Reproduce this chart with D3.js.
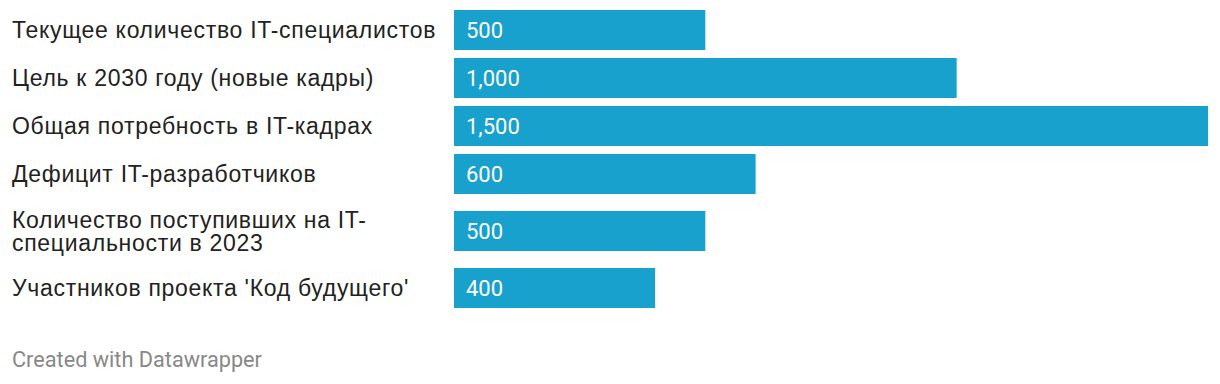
<!DOCTYPE html>
<meta charset="utf-8">
<style>
  body { margin: 0; background: #fff; }
  .label text { font-family: "Liberation Sans", Arial, sans-serif; font-size: 23px; letter-spacing: 0.7px; fill: #222; }
  .value { font-family: Roboto, sans-serif; font-size: 22px; fill: #fff; }
  .credit { font-family: Roboto, sans-serif; font-size: 21.7px; fill: #888; }
</style>
<svg width="1220" height="384"></svg>
<script src="https://d3js.org/d3.v7.min.js"></script>
<script>
var categories = [
    "Текущее количество IT-специалистов",
    "Цель к 2030 году (новые кадры)",
    "Общая потребность в IT-кадрах",
    "Дефицит IT-разработчиков",
    "Количество поступивших на IT-специальности в 2023",
    "Участников проекта 'Код будущего'"
];
var values = [500, 1000, 1500, 600, 500, 400];

var svg = d3.select("svg");

var labelX = 12, labelMax = 434, barX = 454, barW = 754, barH = 40, lineH = 23;

var x = d3.scaleLinear().domain([0, d3.max(values)]).range([barX, barX + barW]);

// wrap labels on spaces and after hyphens
var probe = svg.append("g").attr("class", "label").append("text");
function wrap(str) {
    var tokens = str.match(/[^\s-]+-?|\s+/g), lines = [], cur = "";
    tokens.forEach(function(t) {
        var test = cur + t;
        probe.text(test.trim());
        if (cur.trim() && probe.node().getComputedTextLength() > labelMax) {
            lines.push(cur.trim());
            cur = t.trim() ? t : "";
        } else cur = test;
    });
    if (cur.trim()) lines.push(cur.trim());
    return lines;
}

// stack rows; a row grows when its label wraps
var rows = [], rowTop = 6;
categories.forEach(function(c, i) {
    var lines = wrap(c);
    var h = 48 + (lines.length - 1) * 18;
    rows.push({name: c, value: values[i], lines: lines, cy: rowTop + h / 2});
    rowTop += h;
});
probe.node().parentNode.remove();

var row = svg.append("g").selectAll("g").data(rows).enter().append("g");

row.append("rect")
   .attr("x", barX)
   .attr("y", d => d.cy - barH / 2)
   .attr("width", d => x(d.value) - barX)
   .attr("height", barH)
   .attr("fill", "#18a1cd");

row.append("g").attr("class", "label")
   .append("text")
   .selectAll("tspan")
   .data(d => d.lines.map((l, j) => ({text: l, y: d.cy + 8 + (j - (d.lines.length - 1) / 2) * lineH})))
   .enter().append("tspan")
   .attr("x", labelX)
   .attr("y", d => d.y)
   .text(d => d.text);

row.append("text")
   .attr("class", "value")
   .attr("x", barX + 12)
   .attr("y", d => d.cy + 8)
   .text(d => d3.format(",")(d.value));

svg.append("text")
   .attr("class", "credit")
   .attr("x", 12)
   .attr("y", 367)
   .text("Created with Datawrapper");
</script>
